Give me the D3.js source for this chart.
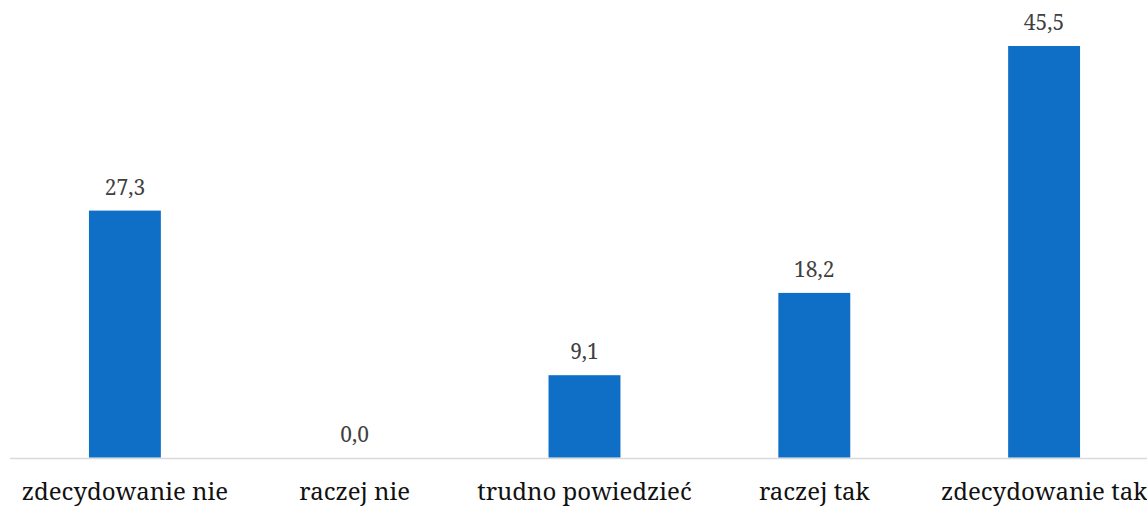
<!DOCTYPE html>
<html><head><meta charset="utf-8">
<script src="https://cdn.jsdelivr.net/npm/d3@7"></script>
<style>html,body{margin:0;padding:0;background:#fff;}svg{display:block;}</style>
</head><body>
<svg id="chart" width="1147" height="506"></svg>
<script>
const categories = ["zdecydowanie nie", "raczej nie", "trudno powiedzieć", "raczej tak", "zdecydowanie tak"];
const values = [27.3, 0.0, 9.1, 18.2, 45.5];
const valueLabels = ["27,3", "0,0", "9,1", "18,2", "45,5"];

const svg = d3.select("#chart");
const font = "'Noto Serif', 'Liberation Serif', serif";
const x = d3.scaleBand().domain(categories).range([10, 1159]).padding(0);
const y = d3.scaleLinear().domain([0, 45.5]).range([457.5, 46]);
const barW = x.bandwidth() * 0.313;

svg.append("line").attr("x1", 10).attr("x2", 1147).attr("y1", 458.5).attr("y2", 458.5)
  .attr("stroke", "#d9d9d9").attr("stroke-width", 1.5);

svg.selectAll("rect.bar").data(values).enter().append("rect")
  .attr("class", "bar")
  .attr("x", (d, i) => x(categories[i]) + x.bandwidth() / 2 - barW / 2)
  .attr("width", barW)
  .attr("y", d => y(d))
  .attr("height", d => y(0) - y(d))
  .attr("fill", "#0f6fc6");

svg.selectAll("text.val").data(values).enter().append("text")
  .attr("class", "val")
  .attr("x", (d, i) => x(categories[i]) + x.bandwidth() / 2)
  .attr("y", d => y(d) - 16)
  .attr("text-anchor", "middle")
  .style("font-family", font).style("font-size", "21px")
  .attr("fill", "#404040")
  .text((d, i) => valueLabels[i]);

svg.selectAll("text.cat").data(categories).enter().append("text")
  .attr("class", "cat")
  .attr("x", d => x(d) + x.bandwidth() / 2)
  .attr("y", 500)
  .attr("text-anchor", "middle")
  .style("font-family", font).style("font-size", "24px")
  .attr("fill", "#111")
  .text(d => d);
</script>
</body></html>
